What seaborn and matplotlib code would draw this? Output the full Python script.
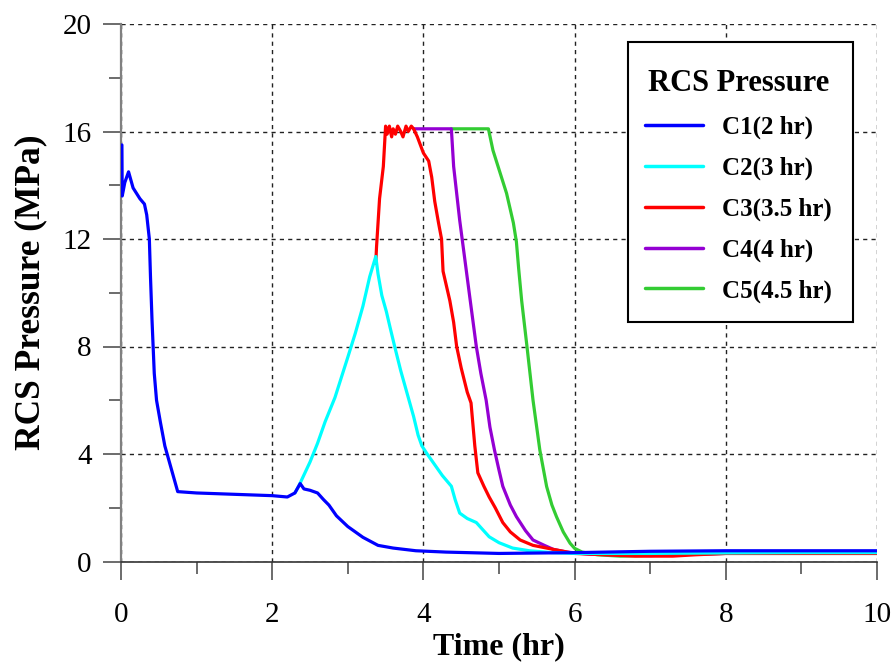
import numpy as np
import pandas as pd
import matplotlib
matplotlib.use("Agg")
import matplotlib.pyplot as plt
import seaborn as sns
from matplotlib.ticker import MultipleLocator
from matplotlib.lines import Line2D
from matplotlib.patches import Rectangle

# ---------------- data ----------------
labels = ["C1(2 hr)", "C2(3 hr)", "C3(3.5 hr)", "C4(4 hr)", "C5(4.5 hr)"]
colors = ["#0000FF", "#00FFFF", "#FF0000", "#9400D3", "#33CC33"]

t1 = [0.012, 0.016, 0.03, 0.05, 0.10, 0.16, 0.25, 0.31, 0.34, 0.375, 0.39, 0.41, 0.44, 0.47,
      0.52, 0.58, 0.67, 0.75, 1.0, 1.5, 2.0, 2.2, 2.3, 2.37, 2.42, 2.5, 2.6, 2.68, 2.75,
      2.85, 3.0, 3.2, 3.4, 3.6, 3.9, 4.3, 5.0, 6.0, 7.0, 8.0, 9.0, 10.0]
p1 = [15.5, 13.6, 13.8, 14.1, 14.5, 13.9, 13.5, 13.3, 12.9, 12.0, 10.6, 9.0, 7.0, 6.0,
      5.2, 4.3, 3.4, 2.6, 2.55, 2.5, 2.45, 2.4, 2.55, 2.9, 2.7, 2.65, 2.55, 2.3, 2.1,
      1.7, 1.3, 0.9, 0.6, 0.5, 0.4, 0.35, 0.3, 0.33, 0.38, 0.4, 0.4, 0.4]

t2 = [2.3, 2.35, 2.5, 2.6, 2.7, 2.83, 3.0, 3.1, 3.2, 3.29, 3.37, 3.40, 3.45, 3.51, 3.56,
      3.62, 3.7, 3.78, 3.87, 3.93, 3.98, 4.05, 4.15, 4.25, 4.31, 4.37, 4.42, 4.48, 4.58,
      4.70, 4.78, 4.87, 5.0, 5.18, 5.4, 5.7, 6.0, 6.5, 7.0, 8.0, 9.0, 10.0]
p2 = [2.55, 2.8, 3.7, 4.4, 5.2, 6.1, 7.6, 8.5, 9.5, 10.6, 11.35, 10.7, 9.9, 9.3, 8.7,
      8.0, 7.1, 6.3, 5.4, 4.7, 4.3, 4.0, 3.6, 3.2, 3.0, 2.8, 2.3, 1.8, 1.6,
      1.45, 1.2, 0.92, 0.7, 0.5, 0.4, 0.33, 0.3, 0.3, 0.3, 0.32, 0.33, 0.33]

t3 = [3.37, 3.38, 3.42, 3.47, 3.50, 3.52, 3.55, 3.58, 3.6, 3.63, 3.66, 3.7, 3.73, 3.77,
      3.8, 3.84, 3.87, 3.92, 4.0, 4.07, 4.11, 4.15, 4.2, 4.24, 4.26, 4.35, 4.40, 4.44,
      4.50, 4.58, 4.63, 4.68, 4.72, 4.8, 4.87, 4.95, 5.05, 5.15, 5.28, 5.45, 5.72, 6.0,
      6.4, 6.8, 7.3, 7.6, 8.0, 9.0, 10.0]
p3 = [11.1, 11.7, 13.5, 14.7, 16.2, 15.9, 16.2, 15.8, 16.1, 15.9, 16.2, 16.0, 15.8, 16.2,
      16.0, 16.2, 16.1, 15.8, 15.2, 14.9, 14.3, 13.4, 12.6, 12.0, 10.8, 9.7, 8.9, 8.0,
      7.2, 6.3, 5.9, 4.3, 3.3, 2.8, 2.4, 2.0, 1.45, 1.1, 0.8, 0.6, 0.45, 0.3,
      0.25, 0.2, 0.2, 0.25, 0.3, 0.3, 0.3]

t4 = [3.87, 4.0, 4.2, 4.37, 4.40, 4.44, 4.48, 4.55, 4.62, 4.70, 4.76, 4.83, 4.88, 4.94,
      5.0, 5.05, 5.15, 5.23, 5.35, 5.45, 5.6, 5.72, 5.9, 6.2, 6.6, 7.0, 7.3, 8.0, 9.0, 10.0]
p4 = [16.1, 16.1, 16.1, 16.1, 14.7, 13.7, 12.7, 11.2, 9.7, 8.0, 7.0, 6.0, 5.0, 4.15,
      3.4, 2.8, 2.1, 1.67, 1.15, 0.8, 0.6, 0.45, 0.35, 0.27, 0.25, 0.22, 0.25, 0.3, 0.3, 0.3]

t5 = [4.37, 4.6, 4.86, 4.92, 5.01, 5.10, 5.19, 5.23, 5.26, 5.30, 5.37, 5.45, 5.54, 5.63,
      5.70, 5.76, 5.85, 5.94, 6.0, 6.1, 6.3, 6.6, 6.9, 7.5, 8.0, 9.0, 10.0]
p5 = [16.1, 16.1, 16.1, 15.3, 14.5, 13.7, 12.6, 11.9, 10.9, 9.7, 8.0, 6.0, 4.15, 2.79,
      2.1, 1.67, 1.1, 0.68, 0.49, 0.35, 0.25, 0.2, 0.22, 0.28, 0.3, 0.3, 0.3]

x_ticks = [0, 2, 4, 6, 8, 10]
y_ticks = [0, 4, 8, 12, 16, 20]

series_t = [t1, t2, t3, t4, t5]
series_p = [p1, p2, p3, p4, p5]

# ---------------- figure ----------------
sns.set_style("white")
plt.rcParams["font.family"] = ["Liberation Serif", "DejaVu Serif"]
plt.rcParams["text.color"] = "black"
plt.rcParams["axes.labelcolor"] = "black"
plt.rcParams["xtick.color"] = "black"
plt.rcParams["ytick.color"] = "black"

W, H = 892, 664
fig = plt.figure(figsize=(W / 100, H / 100), dpi=100)
ax = fig.add_axes([121 / W, 1 - 561.5 / H, (877 - 121) / W, (561.5 - 24) / H])

# draw last series first so C1 ends on top
for i in reversed(range(5)):
    df = pd.DataFrame({"Time": series_t[i], "P": series_p[i]})
    sns.lineplot(data=df, x="Time", y="P", ax=ax, color=colors[i], lw=2.3,
                 sort=False, estimator=None, legend=False, zorder=3 + (4 - i) * 0.1)

ax.set_xlim(0, 10)
ax.set_ylim(0, 20)
ax.set_xticks(x_ticks)
ax.set_yticks(y_ticks)
ax.xaxis.set_minor_locator(MultipleLocator(1))
ax.yaxis.set_minor_locator(MultipleLocator(2))
ax.grid(which="major", linestyle=(0, (3, 3)), color="#222222", lw=1.0)
ax.grid(which="minor", visible=False)
ax.set_axisbelow(True)

for s in ["top", "right"]:
    ax.spines[s].set_visible(False)
ax.spines["left"].set_color("#808080")
ax.spines["left"].set_linewidth(1.6)
ax.spines["bottom"].set_color("#333333")
ax.spines["bottom"].set_linewidth(1.2)

ax.tick_params(which="both", bottom=True, left=True, top=False, right=False)
ax.tick_params(which="major", direction="out", length=13, width=1.1, color="#444444",
               labelcolor="black", labelsize=21, pad=8)
ax.tick_params(which="minor", direction="out", length=8.5, width=1.1, color="#444444")
ax.tick_params(axis="x", which="major", pad=16)

ax.set_xlabel("Time (hr)", fontsize=23, fontweight="bold", labelpad=3, color="black")
ax.set_ylabel("RCS Pressure (MPa)", fontsize=25.5, fontweight="bold", labelpad=11,
              color="black")

# legend content (frame drawn separately as a plain box)
handles = [Line2D([], [], color=c, lw=2.5) for c in colors]
leg = ax.legend(handles, labels, title="RCS Pressure", loc="upper left",
                bbox_to_anchor=(645 / W, 1 - 69 / H), bbox_transform=fig.transFigure,
                borderaxespad=0, frameon=False, prop={"weight": "bold", "size": 18},
                title_fontproperties={"weight": "bold", "size": 22},
                handlelength=2.3, handletextpad=0.8, labelspacing=0.7, borderpad=0)
for txt in leg.get_texts():
    txt.set_color("black")
leg.get_title().set_color("black")
leg.set_zorder(6)

box = Rectangle((628 / W, 1 - 322 / H), (853 - 628) / W, (322 - 42) / H,
                transform=fig.transFigure, facecolor="white", edgecolor="black",
                lw=1.5, zorder=5)
fig.add_artist(box)
fig.add_artist(leg)

fig.savefig("out.png", dpi=100)
